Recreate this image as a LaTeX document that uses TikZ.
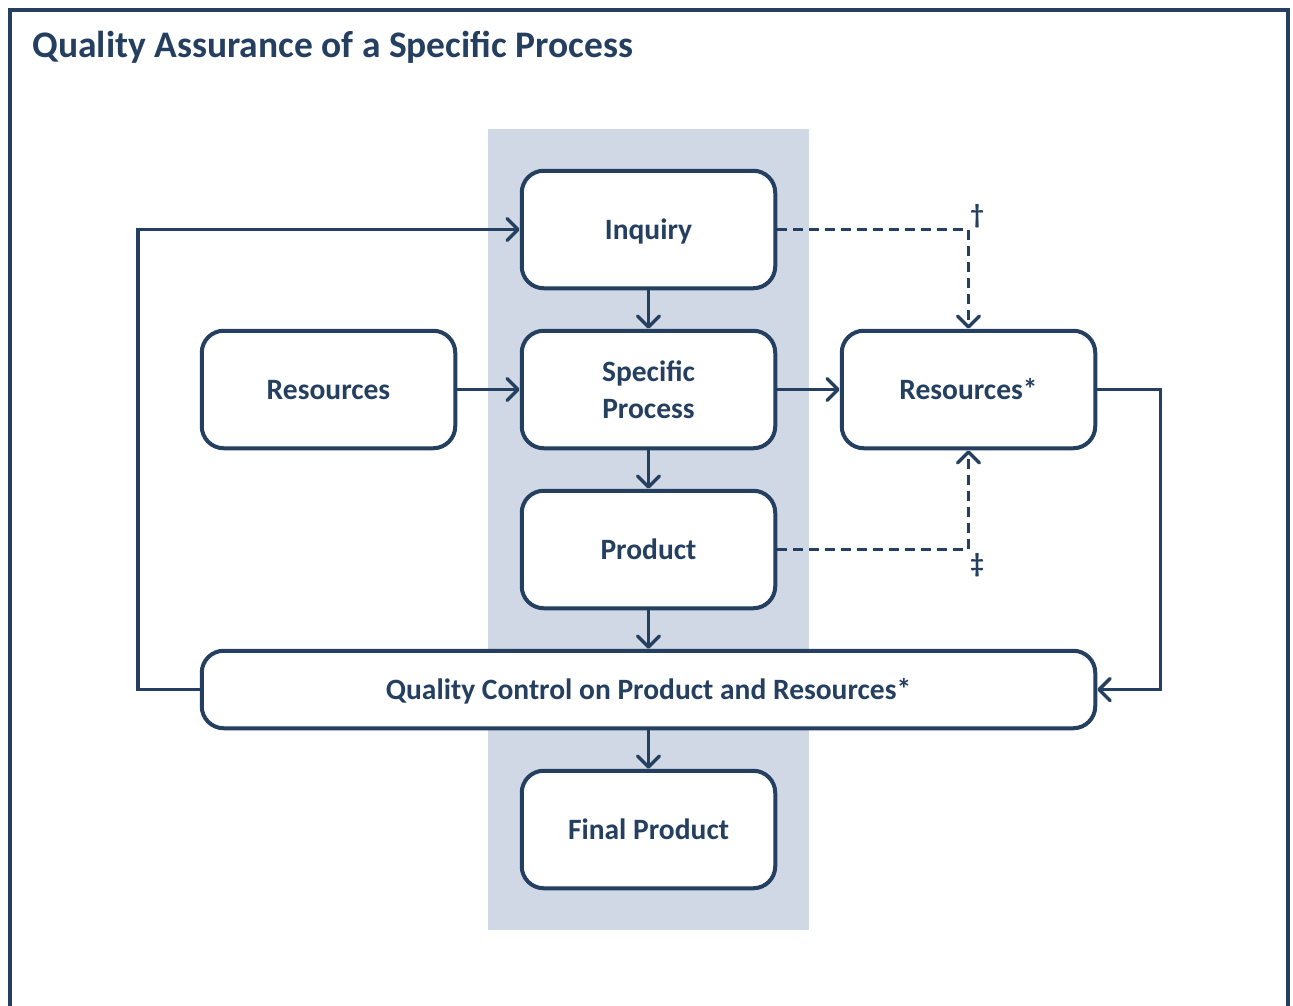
\documentclass[tikz,border=0pt]{standalone}
\usepackage{fontspec}
\setmainfont{Carlito}
\usetikzlibrary{arrows.meta}
\definecolor{navy}{HTML}{243F60}
\definecolor{bandblue}{HTML}{D0D8E6}
\tikzset{
  stepbox/.style={draw=navy, line width=4pt, rounded corners=22pt, fill=white,
    minimum width=253.5pt, minimum height=117.5pt, align=center, text=navy,
    text height=20pt, text depth=0pt,
    font=\bfseries\fontsize{29.5}{37}\selectfont},
  link/.style={draw=navy, line width=3.5pt, -{Straight Barb[length=11pt,width=22pt,line width=3.5pt,round]}},
  dashlink/.style={link, dash pattern=on 10pt off 6pt},
  footmark/.style={text=navy, font=\bfseries\fontsize{27}{28}\selectfont}
}
\begin{document}
\begin{tikzpicture}[x=1pt,y=-1pt]
\useasboundingbox (0,0) rectangle (1293,1005);

\fill[bandblue] (488,129) rectangle (809,930);
\draw[navy, line width=4pt] (9.5,1010) -- (9.5,10) -- (1288,10) -- (1288,1010);

\node[anchor=base west, text=navy, font=\bfseries\fontsize{37.5}{40}\selectfont] (title) at (29,57) {Quality Assurance of a Specific Process};

\node[stepbox] (inq) at (648.5,229.5) {Inquiry};
\node[stepbox, text height=57pt] (spec) at (648.5,389.5) {Specific\\Process};
\node[stepbox] (prod) at (648.5,549.5) {Product};
\node[stepbox] (res) at (328.5,389.5) {Resources};
\node[stepbox] (resx) at (968.5,389.5) {Resources*};
\node[stepbox, minimum width=893.5pt, minimum height=77.5pt] (qc) at (648.5,689.5) {Quality Control on Product and Resources*};
\node[stepbox] (fin) at (648.5,829.5) {Final Product};

\node[footmark] (dag) at (977,216) {†};
\node[footmark] (ddag) at (977,565) {‡};

\draw[link] (inq) -- (spec);
\draw[link] (spec) -- (prod);
\draw[link] (prod) -- (qc.north -| prod.south);
\draw[link] (qc.south -| fin.north) -- (fin);
\draw[link] (res) -- (spec);
\draw[link] (spec) -- (resx);
\draw[link] (qc.west) -- ++(-62,0) |- (inq.west);
\draw[link] (resx.east) -- ++(63,0) |- (qc.east);
\draw[dashlink] (inq.east) -| (resx.north);
\draw[dashlink] (prod.east) -| (resx.south);
\end{tikzpicture}
\end{document}
